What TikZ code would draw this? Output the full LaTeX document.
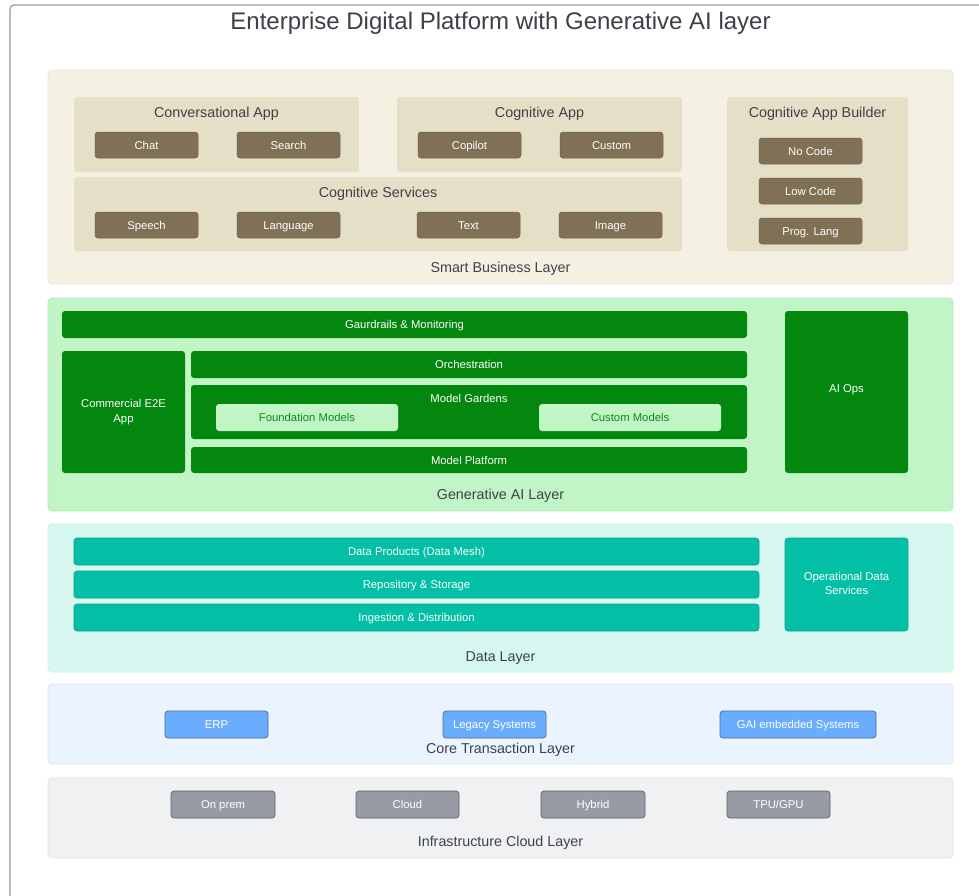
\documentclass[tikz,border=0pt]{standalone}
\usepackage{fontspec}
\setmainfont{Liberation Sans}

\definecolor{frameline}{HTML}{9A9A9A}
\definecolor{inkdark}{HTML}{3C4148}
\definecolor{sbBg}{HTML}{F5F1E2}
\definecolor{sbEdge}{HTML}{ECE6D2}
\definecolor{sbInner}{HTML}{E6DFC7}
\definecolor{brownBox}{HTML}{807156}
\definecolor{brownEdge}{HTML}{6B5F4A}
\definecolor{genBg}{HTML}{C2F5C6}
\definecolor{genEdge}{HTML}{B6ECBA}
\definecolor{dgreen}{HTML}{04870F}
\definecolor{lgreen}{HTML}{C2F5C6}
\definecolor{lgreenText}{HTML}{0C8A1B}
\definecolor{dataBg}{HTML}{D6F8F1}
\definecolor{dataEdge}{HTML}{C8F0E8}
\definecolor{teal}{HTML}{02BFA5}
\definecolor{tealEdge}{HTML}{0AA48D}
\definecolor{coreBg}{HTML}{EAF3FE}
\definecolor{coreEdge}{HTML}{DCE8F7}
\definecolor{blueBox}{HTML}{6AADFE}
\definecolor{blueEdge}{HTML}{4E6B91}
\definecolor{infraBg}{HTML}{F0F1F3}
\definecolor{infraEdge}{HTML}{E4E5E8}
\definecolor{grayBox}{HTML}{979CA4}
\definecolor{grayEdge}{HTML}{5E636B}

% box placed by its top-left and bottom-right corners (pixel grid, y down)
\newcommand{\rbox}[7]{\node[#2, anchor=north west, inner sep=0pt, outer sep=0pt,
  minimum width={#5pt-#3pt}, minimum height={#6pt-#4pt}] (#1) at (#3,#4) {#7};}

\tikzset{
  layer/.style={rounded corners=4pt, line width=0.8pt},
  sbLayer/.style={layer, fill=sbBg, draw=sbEdge},
  genLayer/.style={layer, fill=genBg, draw=genEdge},
  dataLayer/.style={layer, fill=dataBg, draw=dataEdge},
  coreLayer/.style={layer, fill=coreBg, draw=coreEdge},
  infraLayer/.style={layer, fill=infraBg, draw=infraEdge},
  group/.style={rounded corners=3pt, fill=sbInner},
  % small type: capitals centred on the node centre
  smallfont/.style={font=\fontsize{11.3}{14.5}\selectfont, text height=10.5pt, text depth=2.4pt},
  boxtext/.style={smallfont, text=white, align=center},
  brownbtn/.style={boxtext, rounded corners=3pt, fill=brownBox, draw=brownEdge, line width=0.5pt},
  greenbox/.style={boxtext, rounded corners=3pt, fill=dgreen},
  lightbox/.style={smallfont, text=lgreenText, rounded corners=3pt, fill=lgreen},
  tealbox/.style={boxtext, rounded corners=3pt, fill=teal, draw=tealEdge, line width=0.6pt},
  bluebtn/.style={boxtext, rounded corners=3pt, fill=blueBox, draw=blueEdge, line width=0.7pt},
  graybtn/.style={boxtext, rounded corners=3pt, fill=grayBox, draw=grayEdge, line width=0.7pt},
  lbl/.style={font=\fontsize{14.3}{17}\selectfont, text=inkdark, inner sep=0pt,
    text height=13.25pt, text depth=3pt},
  gtext/.style={boxtext, inner sep=0pt},
  % two-line white captions keep their natural height
  gtwo/.style={font=\fontsize{11.3}{#1}\selectfont, text=white, align=center, inner sep=0pt},
}

\begin{document}
\begin{tikzpicture}[x=1pt, y=-1pt]
\useasboundingbox (0,0) rectangle (979,895);
\fill[white] (0,0) rectangle (979,895);
\begin{scope}
\clip (0,0) rectangle (979,895);
% page frame
\draw[frameline, line width=1.2pt, rounded corners=4pt] (985,5) -- (10,5) -- (10,900);
\end{scope}

\node[font=\fontsize{24}{28}\selectfont, text=inkdark, inner sep=0pt,
  text height=22.2pt, text depth=5pt] (title) at (500.5,20.5) {Enterprise Digital Platform with Generative AI layer};

% ---------- Smart Business Layer ----------
\rbox{sbl}{sbLayer}{48}{70}{953}{284}{}
\rbox{conv}{group}{74}{97}{359}{172}{}
\rbox{cogapp}{group}{397}{97}{682}{172}{}
\rbox{cogsrv}{group}{74}{177}{682}{251}{}
\rbox{builder}{group}{727}{97}{908}{251}{}
\node[lbl] (convT) at (216.5,112.5) {Conversational App};
\node[lbl] (cogappT) at (539.5,112.5) {Cognitive App};
\node[lbl] (cogsrvT) at (378,192.5) {Cognitive Services};
\node[lbl] (builderT) at (817.5,112.5) {Cognitive App Builder};
\rbox{chat}{brownbtn}{95}{132}{198}{158}{Chat}
\rbox{search}{brownbtn}{237}{132}{340}{158}{Search}
\rbox{copilot}{brownbtn}{418}{132}{521}{158}{Copilot}
\rbox{custom}{brownbtn}{560}{132}{663}{158}{Custom}
\rbox{speech}{brownbtn}{95}{212}{198}{238}{Speech}
\rbox{language}{brownbtn}{237}{212}{340}{238}{Language}
\rbox{text}{brownbtn}{417}{212}{520}{238}{Text}
\rbox{image}{brownbtn}{559}{212}{662}{238}{Image}
\rbox{nocode}{brownbtn}{759}{138}{862}{164}{No Code}
\rbox{lowcode}{brownbtn}{759}{178}{862}{204}{Low Code}
\rbox{proglang}{brownbtn}{759}{218}{862}{244}{Prog. Lang}
\node[lbl] (sblT) at (500.5,267.5) {Smart Business Layer};

% ---------- Generative AI Layer ----------
\rbox{gen}{genLayer}{48}{298}{953}{511}{}
\rbox{guard}{greenbox}{62}{311}{747}{338}{Gaurdrails \& Monitoring}
\rbox{e2e}{greenbox}{62}{351}{185}{473}{}
\node[gtwo=15pt] (e2eT) at (123.5,412) {Commercial E2E\\App};
\rbox{orch}{greenbox}{191}{351}{747}{378}{Orchestration}
\rbox{garden}{greenbox}{191}{385}{747}{439}{}
\node[gtext] (gardenT) at (469,398.5) {Model Gardens};
\rbox{found}{lightbox}{216}{404}{398}{431}{Foundation Models}
\rbox{custmod}{lightbox}{539}{404}{721}{431}{Custom Models}
\rbox{platform}{greenbox}{191}{447}{747}{473}{Model Platform}
\rbox{aiops}{greenbox}{785}{311}{908}{473}{}
\node[gtext] (aiopsT) at (846.5,388.5) {AI Ops};
\node[lbl] (genT) at (500.5,494.5) {Generative AI Layer};

% ---------- Data Layer ----------
\rbox{data}{dataLayer}{48}{524}{953}{672}{}
\rbox{products}{tealbox}{74}{538}{759}{565}{Data Products (Data Mesh)}
\rbox{repo}{tealbox}{74}{571}{759}{598}{Repository \& Storage}
\rbox{ingest}{tealbox}{74}{604}{759}{631}{Ingestion \& Distribution}
\rbox{opdata}{tealbox}{785}{538}{908}{631}{}
\node[gtwo=14pt] (opdataT) at (846.5,583.5) {Operational Data\\Services};
\node[lbl] (dataT) at (500.5,656) {Data Layer};

% ---------- Core Transaction Layer ----------
\rbox{core}{coreLayer}{48}{684}{953}{764}{}
\rbox{erp}{bluebtn}{165}{711}{268}{738}{ERP}
\rbox{legacy}{bluebtn}{443}{711}{546}{738}{Legacy Systems}
\rbox{gai}{bluebtn}{720}{711}{876}{738}{GAI embedded Systems}
\node[lbl] (coreT) at (500.5,748) {Core Transaction Layer};

% ---------- Infrastructure Cloud Layer ----------
\rbox{infra}{infraLayer}{48}{778}{953}{858}{}
\rbox{onprem}{graybtn}{171}{791}{275}{818}{On prem}
\rbox{cloud}{graybtn}{356}{791}{459}{818}{Cloud}
\rbox{hybrid}{graybtn}{541}{791}{645}{818}{Hybrid}
\rbox{tpu}{graybtn}{727}{791}{830}{818}{TPU/GPU}
\node[lbl] (infraT) at (500.5,841) {Infrastructure Cloud Layer};
\end{tikzpicture}
\end{document}
